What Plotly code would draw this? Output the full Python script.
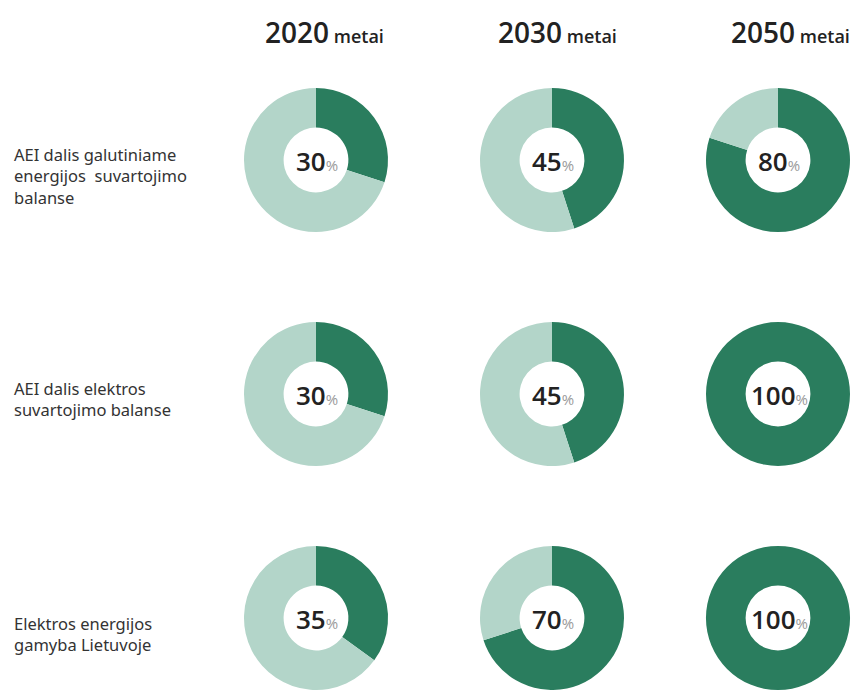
import plotly.graph_objects as go

# ---- data ----
years = ["2020", "2030", "2050"]
year_suffix = "metai"
indicators = [
    "AEI dalis galutiniame<br>energijos  suvartojimo<br>balanse",
    "AEI dalis elektros<br>suvartojimo balanse",
    "Elektros energijos<br>gamyba Lietuvoje",
]
share_2020 = [30, 30, 35]
share_2030 = [45, 45, 70]
share_2050 = [80, 100, 100]
shares = [share_2020, share_2030, share_2050]

# ---- layout constants (pixels) ----
W, H = 852, 690
col_cx = [316, 552, 778]
row_cy = [160, 394, 618]
R = 72
head_cx = [324, 557, 790]
head_cy = 32
label_x = 12
label_cy = [176, 399, 634]

DARK = "#2a7d5e"
LIGHT = "#b3d5c9"
FONT = "Noto Sans"
HEAD_FONT = "Open Sans"

def px_x(x):
    return x / W

def px_y(y):
    return 1 - y / H

fig = go.Figure()
annotations = []

for ci, yr in enumerate(years):
    for ri in range(len(indicators)):
        v = shares[ci][ri]
        cx, cy = col_cx[ci], row_cy[ri]
        fig.add_trace(go.Pie(
            values=[v, 100 - v],
            labels=["AEI", "Kita"],
            sort=False,
            direction="clockwise",
            rotation=0,
            hole=0.45,
            textinfo="none",
            hoverinfo="skip",
            showlegend=False,
            marker=dict(colors=[DARK, LIGHT], line=dict(width=0)),
            domain=dict(
                x=[px_x(cx - R), px_x(cx + R)],
                y=[max(0, px_y(cy + R)), min(1, px_y(cy - R))],
            ),
        ))
        annotations.append(dict(
            x=px_x(cx + 1), y=px_y(cy + 1), xref="paper", yref="paper",
            text=f"{v}<span style='font-size:15px;color:#9a9a9a;font-weight:400'>%</span>",
            showarrow=False, xanchor="center", yanchor="middle",
            font=dict(family=HEAD_FONT, size=26, color="#222222", weight=600),
        ))
    annotations.append(dict(
        x=px_x(head_cx[ci]), y=px_y(head_cy), xref="paper", yref="paper",
        text=f"{yr}<span style='font-size:18px'> {year_suffix}</span>",
        showarrow=False, xanchor="center", yanchor="middle",
        font=dict(family=HEAD_FONT, size=28, color="#222222", weight=600),
    ))

for ri, lab in enumerate(indicators):
    annotations.append(dict(
        x=px_x(label_x), y=px_y(label_cy[ri]), xref="paper", yref="paper",
        text=lab, showarrow=False, xanchor="left", yanchor="middle", align="left",
        font=dict(family=FONT, size=16.5, color="#333333"),
    ))

fig.update_layout(
    width=W, height=H,
    margin=dict(l=0, r=0, t=0, b=0),
    paper_bgcolor="white", plot_bgcolor="white",
    annotations=annotations,
)

fig.write_html("out.html")
